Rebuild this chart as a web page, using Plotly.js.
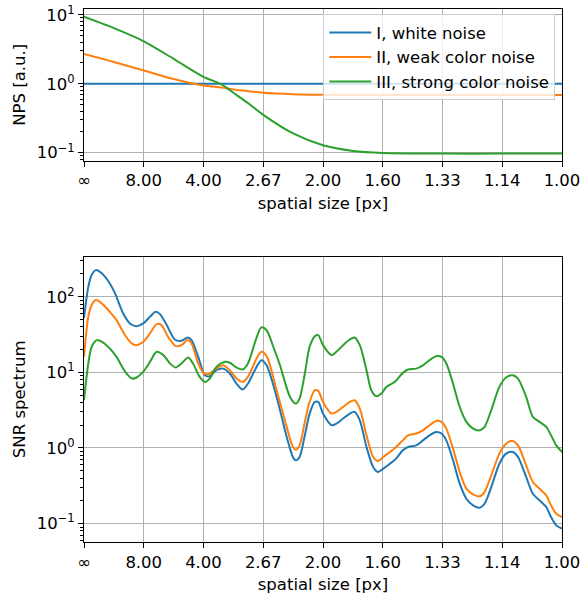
<!DOCTYPE html>
<html>
<head>
<meta charset="utf-8">
<script src="https://cdn.plot.ly/plotly-3.0.1.min.js"></script>
<style>html,body{margin:0;padding:0;background:#fff;}#chart{width:584px;height:597px;}</style>
</head>
<body>
<div id="chart"></div>
<script>
// ---------- data ----------
var seriesNames = ["I, white noise", "II, weak color noise", "III, strong color noise"];
var seriesColors = ["#1f77b4", "#ff7f0e", "#2ca02c"];

var xTickVals = [0, 0.125, 0.25, 0.375, 0.5, 0.625, 0.75, 0.875, 1.0];
var xTickText = ["∞", "8.00", "4.00", "2.67", "2.00", "1.60", "1.33", "1.14", "1.00"];

// NPS (top panel)
var npsF = [0, 0.0625, 0.125, 0.1875, 0.25, 0.2875, 0.3125, 0.34375, 0.375, 0.4375, 0.5, 0.5625, 0.625, 0.75, 0.875, 1.0];
var npsWhite = [1, 1, 1, 1, 1, 1, 1, 1, 1, 1, 1, 1, 1, 1, 1, 1];
var npsWeak = [2.70, 2.07, 1.56, 1.17, 0.94, 0.88, 0.825, 0.78, 0.742, 0.707, 0.692, 0.687, 0.685, 0.685, 0.685, 0.685];
var npsStrong = [9.35, 6.4, 4.13, 2.3, 1.26, 0.98, 0.74, 0.52, 0.354, 0.19, 0.128, 0.106, 0.099, 0.097, 0.097, 0.097];

// SNR spectrum (bottom panel)
var snrFWhite = [0, 0.009, 0.016, 0.025, 0.037, 0.054, 0.065, 0.082, 0.096, 0.110, 0.124, 0.138, 0.150, 0.159, 0.173, 0.190, 0.204, 0.217, 0.225, 0.239, 0.253, 0.263, 0.277, 0.291, 0.305, 0.319, 0.332, 0.343, 0.361, 0.371, 0.382, 0.403, 0.424, 0.437, 0.443,
  0.451, 0.462, 0.472, 0.483, 0.490, 0.500, 0.518, 0.528, 0.542, 0.556, 0.566, 0.577, 0.591, 0.605, 0.615, 0.626, 0.640, 0.653, 0.667, 0.678, 0.695, 0.709, 0.723, 0.737, 0.748, 0.758, 0.772, 0.786, 0.800, 0.814, 0.828, 0.838, 0.852, 0.869, 0.883, 0.897, 0.908, 0.925, 0.939, 0.953, 0.967, 0.977, 0.988, 1.0];
var snrWhite = [52, 135, 194, 225, 204, 150, 111, 60, 44.4, 40.8, 44.4, 54.3, 63.2, 58.9, 42.2, 27.2, 26.1, 28.9, 26.7, 16.0, 9.16, 8.89, 10.7, 11.2, 9.66, 7.11, 5.93, 7.11, 11.8, 14.5, 12.4, 4.73, 1.40, 0.76, 0.687,
  0.76, 1.47, 2.85, 4.06, 4.06, 2.85, 2.0, 2.10, 2.45, 2.85, 3.0, 2.32, 1.03, 0.56, 0.481, 0.532, 0.619, 0.723, 0.931, 1.03, 1.08, 1.26, 1.47, 1.63, 1.55, 1.26, 0.687, 0.337, 0.213, 0.174, 0.162, 0.183, 0.304, 0.619, 0.841, 0.885, 0.76, 0.413, 0.248, 0.203, 0.166, 0.122, 0.0946, 0.0855];

var snrFWeak = [0, 0.009, 0.016, 0.025, 0.037, 0.054, 0.068, 0.086, 0.100, 0.110, 0.124, 0.138, 0.152, 0.162, 0.176, 0.192, 0.204, 0.217, 0.225, 0.239, 0.251, 0.260, 0.277, 0.291, 0.305, 0.319, 0.332, 0.343, 0.361, 0.371, 0.382, 0.403, 0.424, 0.437, 0.443,
  0.451, 0.462, 0.472, 0.483, 0.490, 0.500, 0.518, 0.528, 0.542, 0.556, 0.566, 0.577, 0.591, 0.605, 0.615, 0.626, 0.640, 0.653, 0.667, 0.678, 0.695, 0.709, 0.723, 0.737, 0.748, 0.758, 0.772, 0.786, 0.800, 0.814, 0.828, 0.838, 0.852, 0.869, 0.883, 0.897, 0.908, 0.925, 0.939, 0.953, 0.967, 0.977, 0.988, 1.0];
var snrWeak = [16.0, 54.3, 77.6, 90.4, 81.7, 63.2, 49.1, 31.0, 24.1, 22.9, 25.4, 32.7, 43.4, 42.2, 29.5, 22.2, 22.9, 26.7, 24.1, 13.1, 9.66, 9.46, 11.2, 12.4, 10.7, 8.28, 7.48, 8.71, 15.2, 18.7, 16.4, 5.81, 1.90, 1.03, 0.95,
  1.08, 2.21, 4.06, 5.81, 5.69, 4.06, 2.85, 3.0, 3.49, 4.06, 4.28, 3.32, 1.47, 0.76, 0.673, 0.76, 0.885, 1.03, 1.26, 1.47, 1.55, 1.71, 2.0, 2.28, 2.21, 1.80, 0.98, 0.481, 0.289, 0.243, 0.229, 0.261, 0.435, 0.841, 1.14, 1.24, 1.08, 0.589, 0.355, 0.289, 0.236, 0.174, 0.135, 0.122];

var snrFStrong = [0, 0.009, 0.016, 0.027, 0.037, 0.054, 0.068, 0.086, 0.100, 0.110, 0.124, 0.138, 0.152, 0.166, 0.180, 0.192, 0.204, 0.218, 0.228, 0.242, 0.253, 0.263, 0.277, 0.295, 0.305, 0.319, 0.332, 0.343, 0.361, 0.371, 0.382, 0.396, 0.410, 0.431, 0.443,
  0.451, 0.462, 0.472, 0.483, 0.490, 0.500, 0.518, 0.528, 0.542, 0.556, 0.566, 0.577, 0.591, 0.601, 0.612, 0.622, 0.633, 0.650, 0.667, 0.678, 0.695, 0.709, 0.723, 0.737, 0.748, 0.758, 0.772, 0.786, 0.800, 0.814, 0.828, 0.838, 0.852, 0.869, 0.883, 0.897, 0.908, 0.925, 0.939, 0.953, 0.967, 0.977, 0.988, 1.0];
var snrStrong = [4.28, 13.1, 21.8, 26.7, 25.4, 20.7, 16.0, 10.2, 8.28, 8.55, 10.2, 13.8, 18.7, 16.9, 13.1, 11.6, 13.1, 15.7, 13.1, 8.71, 7.48, 8.28, 11.8, 13.8, 13.4, 11.6, 10.9, 13.1, 28.9, 39.3, 36.1, 21.8, 12.4, 4.73, 3.86,
  4.50, 9.66, 21.8, 30.1, 31.0, 22.9, 16.9, 18.7, 22.9, 27.2, 28.9, 22.9, 10.7, 5.81, 4.83, 5.25, 6.43, 7.48, 9.84, 10.9, 11.2, 12.4, 14.5, 16.4, 16.0, 13.1, 7.11, 3.49, 2.21, 1.80, 1.71, 1.90, 3.16, 6.43, 8.55, 9.16, 8.28, 4.73, 2.58, 2.21, 1.90, 1.47, 1.08, 0.885];

var yTickVals = [0.1, 1, 10, 100];
var yTickText = ["10<sup>−1</sup>", "10<sup>0</sup>", "10<sup>1</sup>", "10<sup>2</sup>"];

// ---------- build ----------
var minorVals = [];
for (var k = -2; k <= 2; k++) {
  for (var m = 2; m <= 9; m++) minorVals.push(m * Math.pow(10, k));
}

function lineTrace(x, y, i, xa, ya, legend) {
  return {
    x: x, y: y, type: "scatter", mode: "lines",
    name: seriesNames[i], showlegend: legend,
    line: {color: seriesColors[i], width: 2, shape: "spline", smoothing: 0.8},
    xaxis: xa, yaxis: ya, hoverinfo: "skip"
  };
}

var traces = [
  lineTrace(npsF, npsWhite, 0, "x", "y", true),
  lineTrace(npsF, npsWeak, 1, "x", "y", true),
  lineTrace(npsF, npsStrong, 2, "x", "y", true),
  lineTrace(snrFWhite, snrWhite, 0, "x2", "y2", false),
  lineTrace(snrFWeak, snrWeak, 1, "x2", "y2", false),
  lineTrace(snrFStrong, snrStrong, 2, "x2", "y2", false)
];

var font = {family: "DejaVu Sans", size: 16.5, color: "#000"};

function xAxis(anchor) {
  return {
    anchor: anchor, domain: [0, 1], range: [0, 1],
    tickmode: "array", tickvals: xTickVals, ticktext: xTickText,
    ticks: "outside", ticklen: 5, tickwidth: 1, tickcolor: "#000",
    showline: true, mirror: true, linecolor: "#000", linewidth: 1,
    showgrid: true, gridcolor: "#b0b0b0", gridwidth: 1, zeroline: false,
    title: {text: "spatial size [px]", font: font, standoff: 7},
    tickfont: font, automargin: false
  };
}
function yAxis(anchor, domain, range, title) {
  return {
    anchor: anchor, domain: domain, type: "log", range: range,
    tickmode: "array", tickvals: yTickVals, ticktext: yTickText,
    ticks: "outside", ticklen: 5, tickwidth: 1, tickcolor: "#000",
    minor: {tickmode: "array", tickvals: minorVals, ticks: "outside", ticklen: 3, tickwidth: 1, tickcolor: "#000", showgrid: false},
    showline: true, mirror: true, linecolor: "#000", linewidth: 1,
    showgrid: true, gridcolor: "#b0b0b0", gridwidth: 1, zeroline: false,
    title: {text: title, font: font, standoff: 6},
    tickfont: font, automargin: false
  };
}

var layout = {
  width: 584, height: 597,
  margin: {l: 84, r: 22, t: 9, b: 55},
  paper_bgcolor: "#fff", plot_bgcolor: "#fff",
  font: font,
  showlegend: true,
  legend: {
    x: 0.986, xanchor: "right", y: 0.99, yanchor: "top",
    bgcolor: "rgba(255,255,255,0.8)", bordercolor: "#cccccc", borderwidth: 1,
    font: font, tracegroupgap: 0, itemwidth: 42
  },
  xaxis: xAxis("y"),
  yaxis: yAxis("x", [0.7154, 1], [-1.116, 1.084], "NPS [a.u.]"),
  xaxis2: xAxis("y2"),
  yaxis2: yAxis("x2", [0, 0.5353], [-1.244, 2.53], "SNR spectrum")
};

Plotly.newPlot("chart", traces, layout, {staticPlot: true, displayModeBar: false});
</script>
</body>
</html>
